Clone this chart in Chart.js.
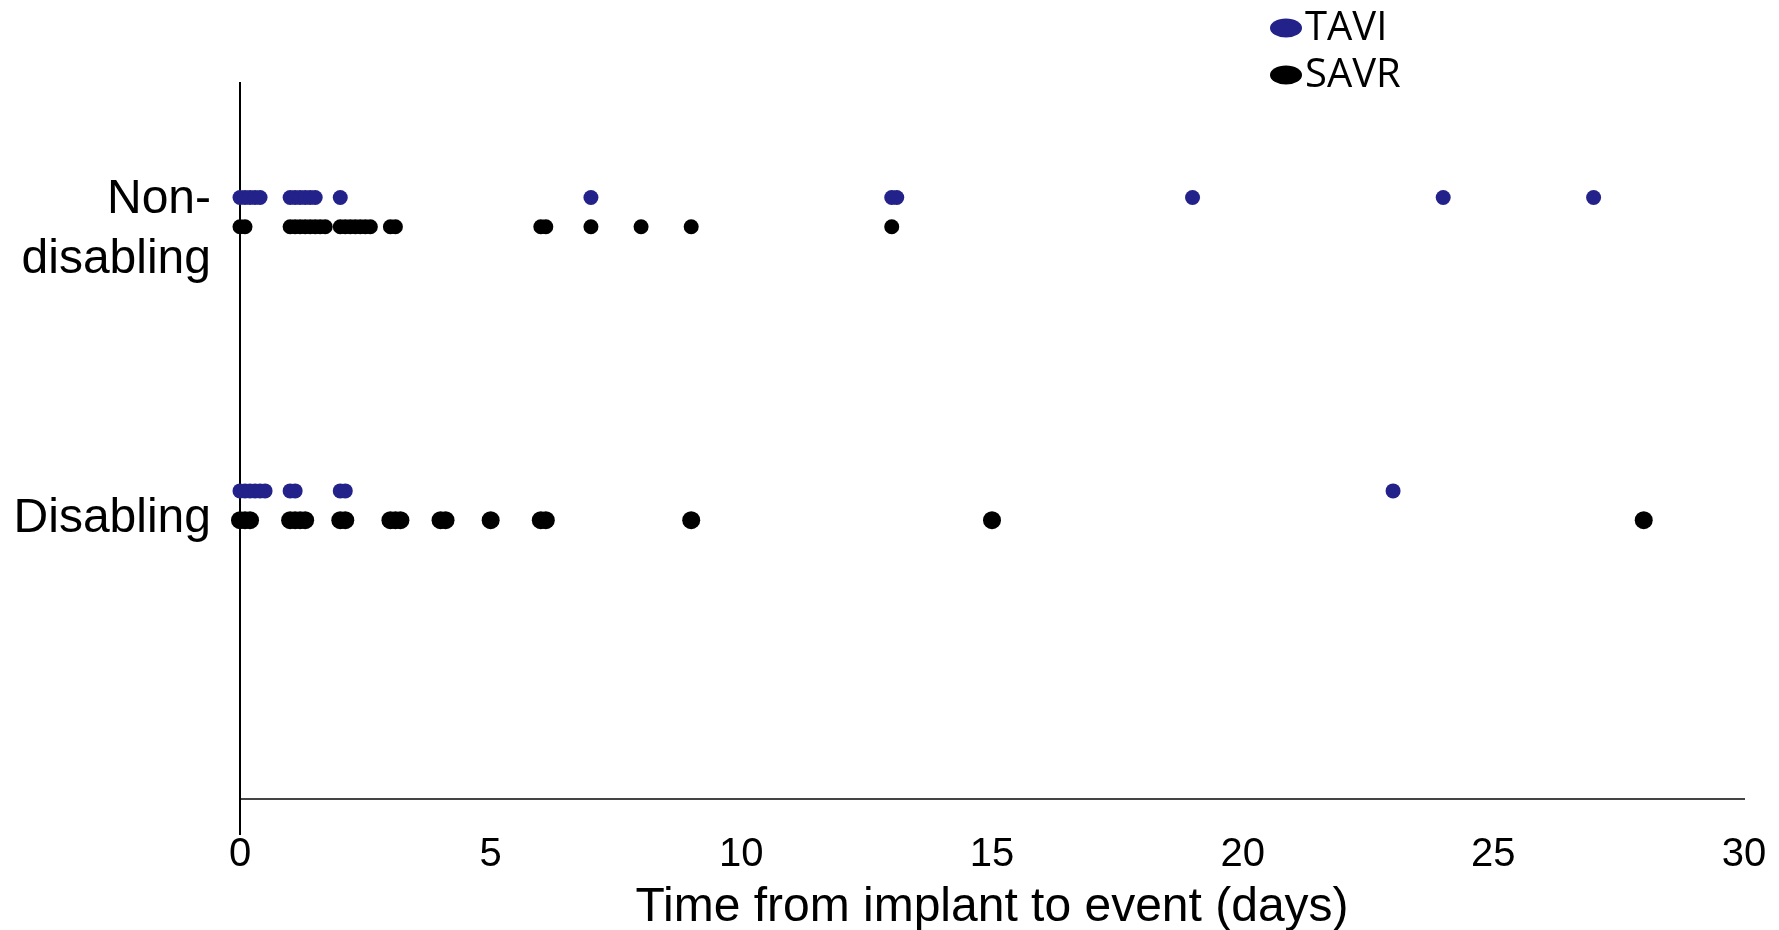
<!DOCTYPE html>
<html>
<head>
<meta charset="utf-8">
<script src="https://cdn.jsdelivr.net/npm/chart.js@4.4.0/dist/chart.umd.min.js"></script>
<style>
  html, body { margin: 0; padding: 0; background: #fff; }
  #wrap { width: 1779px; height: 930px; }
</style>
</head>
<body>
<div id="wrap"><canvas id="chart"></canvas></div>
<script>
// Stroke type rows (bottom to top) and the two groups
const categories = ['Disabling', ['Non-', 'disabling']];
const groups = ['TAVI', 'SAVR'];
const groupColors = ['#22228a', '#000000'];

// Days from implant to event
const taviNonDisabling = [0, 0.1, 0.2, 0.3, 0.4, 1.0, 1.1, 1.2, 1.3, 1.4, 1.5, 2, 7, 13, 13.1, 19, 24, 27];
const savrNonDisabling = [0, 0.1, 1.0, 1.1, 1.2, 1.3, 1.4, 1.5, 1.6, 1.7, 2.0, 2.1, 2.2, 2.3, 2.4, 2.5, 2.6, 3.0, 3.1, 6.0, 6.1, 7, 8, 9, 13];
const taviDisabling = [0, 0.1, 0.2, 0.3, 0.4, 0.5, 1.0, 1.1, 2.0, 2.1, 23];
const savrDisabling = [0, 0.1, 0.2, 1.0, 1.1, 1.2, 1.3, 2.0, 2.1, 3.0, 3.1, 3.2, 4.0, 4.1, 5, 6.0, 6.1, 9, 15, 28];

const xTicks = [0, 5, 10, 15, 20, 25, 30];

// row levels on the y scale, TAVI sits a little above SAVR
const rowLevel = [1, 2];
const groupOffset = [0.05, -0.05];
const labelLevel = [0.955, 1.94];

function points(days, row, group) {
    return days.map(d => ({ x: d, y: rowLevel[row] + groupOffset[group] }));
}

function makeSet(label, days, row, group, radius) {
    return {
        label: label,
        data: points(days, row, group),
        backgroundColor: groupColors[group],
        borderWidth: 0,
        pointRadius: radius,
        pointHoverRadius: radius,
        clip: false
    };
}

// legend stacked top right, drawn with ellipse markers
const stackLegend = {
    id: 'stackLegend',
    afterDraw(chart) {
        const ctx = chart.ctx;
        ctx.save();
        ctx.font = '40px "Open Sans"';
        ctx.textBaseline = 'alphabetic';
        groups.forEach((g, i) => {
            const cy = 28 + i * 47;
            ctx.fillStyle = groupColors[i];
            ctx.beginPath();
            ctx.ellipse(1286, cy, 16, 9.5, 0, 0, Math.PI * 2);
            ctx.fill();
            ctx.fillStyle = '#000';
            ctx.fillText(g, 1305, cy + 12);
        });
        ctx.restore();
    }
};

const ctx = document.getElementById('chart').getContext('2d');
new Chart(ctx, {
    type: 'scatter',
    data: {
        datasets: [
            makeSet('TAVI', taviNonDisabling, 1, 0, 7.5),
            makeSet('SAVR', savrNonDisabling, 1, 1, 7.5),
            makeSet('TAVI', taviDisabling, 0, 0, 7.5),
            makeSet('SAVR', savrDisabling, 0, 1, 9)
        ]
    },
    options: {
        responsive: true,
        maintainAspectRatio: false,
        animation: false,
        layout: { padding: { top: 83, right: 35, left: 0, bottom: 0 } },
        plugins: {
            legend: { display: false },
            tooltip: { enabled: false }
        },
        scales: {
            x: {
                type: 'linear',
                min: 0,
                max: 30,
                z: 1,
                afterBuildTicks: scale => { scale.ticks = xTicks.map(v => ({ value: v })); },
                afterFit: scale => { scale.height = 131; },
                border: { display: true, color: '#444', width: 2 },
                grid: {
                    drawOnChartArea: false,
                    drawTicks: true,
                    tickLength: 36,
                    lineWidth: 2,
                    color: c => (c.tick && c.tick.value === 0 ? '#000' : 'rgba(0,0,0,0)')
                },
                ticks: {
                    padding: 0,
                    color: '#000',
                    font: { family: '"Liberation Sans", Arial', size: 40, lineHeight: 1.0 }
                },
                title: {
                    display: true,
                    text: 'Time from implant to event (days)',
                    color: '#000',
                    padding: { top: 0, bottom: -2 },
                    font: { family: '"Liberation Sans", Arial', size: 48, lineHeight: 1.0 }
                }
            },
            y: {
                type: 'linear',
                min: 0,
                max: 2.44,
                z: 1,
                afterBuildTicks: scale => { scale.ticks = labelLevel.map(v => ({ value: v })); },
                afterFit: scale => {
                    scale.width = 240;
                    scale.paddingTop = 0;
                    scale.paddingBottom = 0;
                },
                border: { display: true, color: '#000', width: 2 },
                grid: { display: false, drawTicks: false },
                ticks: {
                    padding: 29,
                    color: '#000',
                    font: { family: '"Liberation Sans", Arial', size: 48, lineHeight: 1.24 },
                    callback: (value, index) => categories[index]
                }
            }
        }
    },
    plugins: [stackLegend]
});
</script>
</body>
</html>
